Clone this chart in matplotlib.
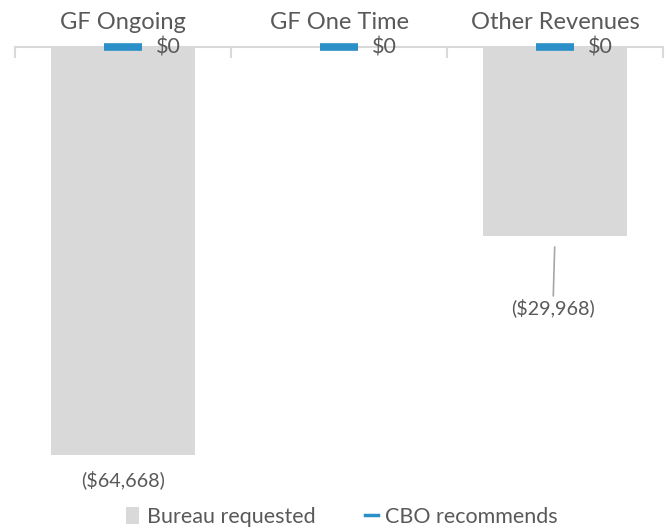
import matplotlib
matplotlib.use("Agg")
import matplotlib.pyplot as plt
from matplotlib.patches import Patch
from matplotlib.lines import Line2D

# chart data
categories = ["GF Ongoing", "GF One Time", "Other Revenues"]
bureau_requested = [-64668, 0, -29968]
cbo_recommends = [0, 0, 0]

plt.rcParams['font.family'] = ['Lato', 'DejaVu Sans']
text_color = '#595959'
gray = '#d9d9d9'
blue = '#2b90c8'

fig = plt.figure(figsize=(6.71, 5.32), dpi=100)
ax = fig.add_axes([15/671, 1-463/532, 648/671, 416/532])

x = list(range(len(categories)))

# bureau bars, hanging down from zero
ax.bar(x, bureau_requested, width=0.667, color=gray, zorder=1)

# cbo recommends as short dashes on the zero line
ax.plot(x, cbo_recommends, linestyle='none', marker='_', markersize=27.5,
        markeredgewidth=5.5, color=blue, clip_on=False, zorder=3)

ax.set_xlim(-0.5, 2.5)
ax.set_ylim(-66000, 0)

# zero axis on top with category separators
for s in ['left', 'right', 'bottom']:
    ax.spines[s].set_visible(False)
ax.spines['top'].set_color(gray)
ax.spines['top'].set_linewidth(1.5)
ax.set_yticks([])
ax.xaxis.tick_top()
ax.set_xticks([-0.5, 0.5, 1.5, 2.5])
ax.set_xticklabels([])
ax.tick_params(axis='x', which='major', direction='in', length=8, width=1.5, color=gray)
ax.set_xticks(x, minor=True)
ax.set_xticklabels(categories, minor=True, fontsize=17, color=text_color)
ax.tick_params(axis='x', which='minor', length=0, pad=10)

# $0 labels next to the blue dashes
for xi, v in zip(x, cbo_recommends):
    ax.annotate("${:,}".format(v), (xi, v), xytext=(24, 0), textcoords='offset points',
                ha='left', va='center', fontsize=15.5, color=text_color,
                annotation_clip=False)

# bureau value labels under the bars
for xi, v in zip(x, bureau_requested):
    if v == 0:
        continue
    label = "(${:,})".format(abs(v))
    if xi == 2:
        ax.annotate(label, (xi, v), xytext=(-1.5, -52), textcoords='offset points',
                    ha='center', va='center', fontsize=14.2, color=text_color,
                    arrowprops=dict(arrowstyle='-', color='#a6a6a6', lw=1.2,
                                    shrinkA=0, shrinkB=8))
    else:
        ax.annotate(label, (xi, v), xytext=(0, -18), textcoords='offset points',
                    ha='center', va='center', fontsize=14.2, color=text_color)

handles = [Patch(facecolor=gray, edgecolor='none', label='Bureau requested'),
           Line2D([], [], color=blue, lw=2.5, label='CBO recommends')]
fig.legend(handles=handles, loc='center', bbox_to_anchor=(0.51, 1-517/532), ncol=2,
           frameon=False, fontsize=15.5, labelcolor=text_color, handlelength=0.6,
           handleheight=0.8, handletextpad=0.35, columnspacing=2.3)

fig.savefig('out.png', dpi=100)
